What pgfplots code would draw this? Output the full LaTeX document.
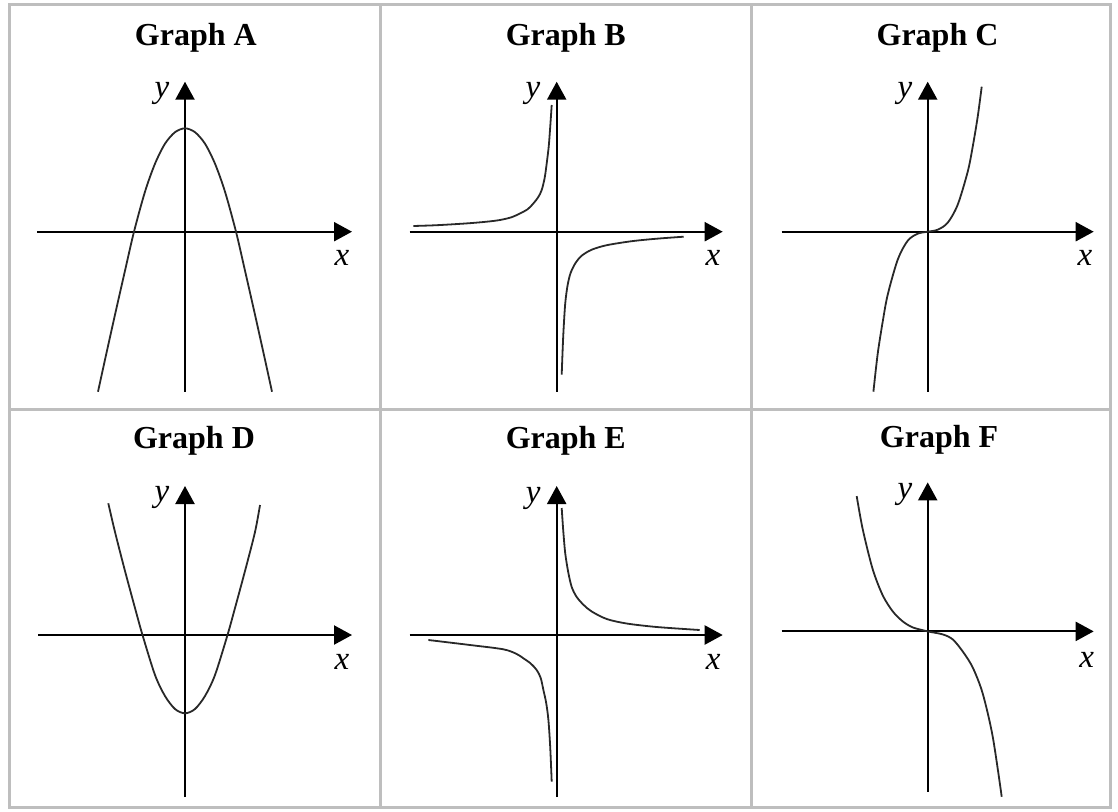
\documentclass[border=0pt]{standalone}
\usepackage{pgfplots}
\pgfplotsset{compat=1.18}
\usetikzlibrary{arrows.meta}
\usepackage{fontspec}
\setmainfont{Liberation Serif}
\definecolor{framegray}{RGB}{190,190,190}
\definecolor{curvecol}{RGB}{40,40,40}
\pgfplotsset{
  every axis title/.style={font=\bfseries\fontsize{16}{19}\selectfont, anchor=base, inner sep=0pt},
  gstyle/.style={
    scale only axis, axis lines=middle, xtick=\empty, ytick=\empty,
    clip=false, anchor=south west,
    axis line style={line width=1.1pt, black},
    every inner x axis line/.append style={-{Triangle[length=9pt,width=9.5pt]}},
    every inner y axis line/.append style={-{Triangle[length=9pt,width=9.5pt]}},
    xlabel style={font=\itshape\fontsize{16.5}{19}\selectfont, anchor=center, inner sep=0pt},
    ylabel style={font=\itshape\fontsize{16.5}{19}\selectfont, anchor=center, inner sep=0pt, rotate=0},
    xlabel={x}, ylabel={y},
  },
  curve/.style={smooth, no marks, line width=0.9pt, color=curvecol},
}
\begin{document}
\begin{tikzpicture}
\path[use as bounding box] (0,0) rectangle (559pt,405.5pt);
% table frame
\draw[framegray, line width=1.5pt] (4.5pt,2pt) rectangle (555pt,403pt);
\draw[framegray, line width=1.5pt] (190pt,2pt) -- (190pt,403pt);
\draw[framegray, line width=1.5pt] (375.5pt,2pt) -- (375.5pt,403pt);
\draw[framegray, line width=1.5pt] (4.5pt,201pt) -- (555pt,201pt);

% ---------- Graph A ----------
\begin{axis}[gstyle, at={(18.5pt,209.65pt)},
  width=157.5pt, height=155pt, xmin=-148, xmax=167, ymin=-160, ymax=150,
  title={Graph A}, title style={at={(axis cs:10.8,186.7)}},
  xlabel style={at={(axis cs:157,-26.3)}}, ylabel style={at={(axis cs:-23,138.7)}}]
\addplot[curve] coordinates {(-87,-160) (-80,-128) (-70,-83) (-60,-39) (-51,0) (-40,40) (-30,68) (-20,88) (-10,99.5) (0,103.4) (10,99.5) (20,88) (30,68) (40,40) (51,0) (60,-39) (70,-83) (80,-128) (87,-160)};
\end{axis}

% ---------- Graph B ----------
\begin{axis}[gstyle, at={(204.85pt,209.65pt)},
  width=156.5pt, height=155pt, xmin=-147, xmax=166, ymin=-160, ymax=150,
  title={Graph B}, title style={at={(axis cs:9.1,186.7)}},
  xlabel style={at={(axis cs:156.3,-26.3)}}, ylabel style={at={(axis cs:-23.7,138.7)}}]
\addplot[curve] coordinates {(-143.4,5.7) (-120,6.5) (-90,8.3) (-70,10) (-56.7,11.7) (-45,14.5) (-36.7,18.3) (-29,22.5) (-23.3,28.3) (-18.5,34.5) (-15,41.7) (-12,54) (-10,68.3) (-8,85) (-6.7,101.7) (-5,126.7)};
\addplot[curve] coordinates {(5,-143) (6.5,-105) (8.5,-72) (11,-53) (14,-41) (19,-31) (25,-24) (35,-18) (50,-13.5) (75,-9.5) (100,-7) (127,-5)};
\end{axis}

% ---------- Graph C ----------
\begin{axis}[gstyle, at={(390.85pt,209.65pt)},
  width=156pt, height=155pt, xmin=-146, xmax=166, ymin=-160, ymax=150,
  title={Graph C}, title style={at={(axis cs:9.8,186.7)}},
  xlabel style={at={(axis cs:157.3,-26.3)}}, ylabel style={at={(axis cs:-22.7,138.7)}}]
\addplot[curve] coordinates {(-54.3,-160) (-50,-122) (-45,-90) (-40,-63) (-30,-28) (-20,-9) (-10,-2) (0,0) (10,2) (20,9) (30,27) (40,60) (45,85) (50,115) (54,145)};
\end{axis}

% ---------- Graph D ----------
\begin{axis}[gstyle, at={(19pt,7pt)},
  width=157pt, height=155.5pt, xmin=-147, xmax=167, ymin=-162, ymax=149,
  title={Graph D}, title style={at={(axis cs:9,186.7)}},
  xlabel style={at={(axis cs:157,-27)}}, ylabel style={at={(axis cs:-23,138)}}]
\addplot[curve] coordinates {(-76.7,131.7) (-70,103) (-60,64) (-50,27) (-42.5,0) (-30,-40) (-20,-61) (-10,-74) (0,-78.3) (10,-74) (20,-61) (30,-40) (42.5,0) (50,27) (60,64) (70,103) (75,130)};
\end{axis}

% ---------- Graph E ----------
\begin{axis}[gstyle, at={(204.85pt,7pt)},
  width=156.5pt, height=155.5pt, xmin=-147, xmax=166, ymin=-162, ymax=149,
  title={Graph E}, title style={at={(axis cs:9.1,186.7)}},
  xlabel style={at={(axis cs:156.6,-26.7)}}, ylabel style={at={(axis cs:-23.4,136.7)}}]
\addplot[curve] coordinates {(5,127) (6.5,105) (8.5,82) (11.5,63) (15,48) (20,38) (27,30) (35,23.5) (50,16) (70,11.5) (100,8) (143,5)};
\addplot[curve] coordinates {(-128.3,-5) (-86.7,-10) (-53.3,-14.3) (-40,-19) (-33.3,-23.3) (-26,-28.5) (-20,-35) (-16,-43) (-13.3,-55) (-10.5,-68) (-8.3,-85) (-6.5,-112) (-5,-146.7)};
\end{axis}

% ---------- Graph F ----------
\begin{axis}[gstyle, at={(390.85pt,9.65pt)},
  width=156pt, height=154.35pt, xmin=-146, xmax=166, ymin=-160, ymax=148.7,
  title={Graph F}, title style={at={(axis cs:11.3,183.4)}},
  xlabel style={at={(axis cs:159,-28.3)}}, ylabel style={at={(axis cs:-22.7,136.7)}}]
\addplot[curve] coordinates {(-71,135) (-65,102) (-55,62) (-45,36) (-35,20) (-25,10) (-15,4) (0,0) (15,-3) (25,-8) (35,-20) (45,-36) (55,-62) (65,-105) (74,-165)};
\end{axis}
\end{tikzpicture}
\end{document}
